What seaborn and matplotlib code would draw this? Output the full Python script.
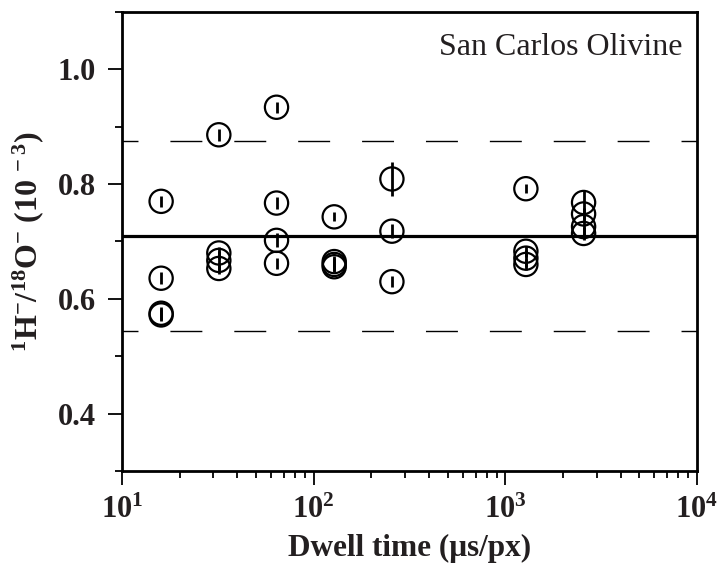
import matplotlib
matplotlib.use("Agg")
import matplotlib.pyplot as plt
import seaborn as sns
import pandas as pd
from matplotlib.ticker import MultipleLocator, LogLocator

# ---- data ----
dwell = [16, 16, 16, 16,
         32, 32, 32, 32,
         64, 64, 64, 64,
         128, 128, 128, 128,
         256, 256, 256,
         1280, 1280, 1280, 1280,
         2560, 2560, 2560, 2560]
ratio = [0.770, 0.636, 0.575, 0.572,
         0.886, 0.680, 0.667, 0.653,
         0.934, 0.767, 0.702, 0.662,
         0.743, 0.665, 0.660, 0.656,
         0.809, 0.718, 0.630,
         0.792, 0.683, 0.671, 0.660,
         0.768, 0.748, 0.726, 0.714]
ratio_err = [0.010, 0.010, 0.011, 0.011,
             0.010, 0.010, 0.016, 0.010,
             0.010, 0.010, 0.012, 0.010,
             0.008, 0.010, 0.012, 0.010,
             0.030, 0.012, 0.010,
             0.008, 0.010, 0.015, 0.010,
             0.020, 0.010, 0.020, 0.012]
mean_value = 0.710
band_low, band_high = 0.544, 0.876
yticks = [0.4, 0.6, 0.8, 1.0]
label_text = "San Carlos Olivine"

df = pd.DataFrame({"dwell": dwell, "ratio": ratio, "err": ratio_err})

TXT = "#231f20"
sns.set_style("ticks")
plt.rcParams["font.family"] = ["Liberation Serif", "DejaVu Serif"]
plt.rcParams["mathtext.default"] = "regular"
plt.rcParams["text.color"] = TXT
plt.rcParams["axes.labelcolor"] = TXT

fig = plt.figure(figsize=(7.25, 5.78), dpi=100)
ax = fig.add_axes([122/725, 1-471/578, (697-122)/725, (471-12)/578])

ax.axhline(mean_value, color="black", lw=2.3, zorder=1)
for yv in (band_low, band_high):
    ax.axhline(yv, color="black", lw=1.0, linestyle=(11.5, (23, 23)), zorder=1)

ax.errorbar(df["dwell"], df["ratio"], yerr=df["err"], fmt="none",
            ecolor="black", elinewidth=2.0, capsize=0, zorder=2)
sns.scatterplot(data=df, x="dwell", y="ratio", ax=ax, marker="o", s=280,
                facecolor="none", edgecolor="black", linewidth=1.6, zorder=3,
                legend=False)

ax.set_xscale("log")
ax.set_xlim(10, 1e4)
ax.set_ylim(0.3, 1.1)
ax.yaxis.set_major_locator(MultipleLocator(0.2))
ax.yaxis.set_minor_locator(MultipleLocator(0.1))
ax.set_yticks(yticks)
ax.set_yticklabels([f"{v:.1f}" for v in yticks])
ax.xaxis.set_minor_locator(LogLocator(base=10, subs=range(2, 10)))

for sp in ax.spines.values():
    sp.set_linewidth(2.0)
    sp.set_color("black")
ax.tick_params(which="major", direction="out", length=10, width=1.3,
               labelsize=22, color="black", labelcolor=TXT)
ax.tick_params(axis="y", which="major", pad=9)
ax.tick_params(axis="x", which="major", pad=8)
ax.tick_params(which="minor", direction="out", length=5, width=1.3, color="black")
for lab in ax.get_xticklabels() + ax.get_yticklabels():
    lab.set_fontweight("bold")

ax.set_xlabel("Dwell time (μs/px)", fontsize=22.5, fontweight="bold", labelpad=6)
ax.set_ylabel("$^{1}$H$^{-}$/$^{18}$O$^{-}$ (10$^{\\,-3}$)", fontsize=23,
              fontweight="bold", labelpad=8)

ax.text(0.975, 0.955, label_text, transform=ax.transAxes, ha="right",
        va="top", fontsize=23)

fig.savefig("out.png", dpi=100)
